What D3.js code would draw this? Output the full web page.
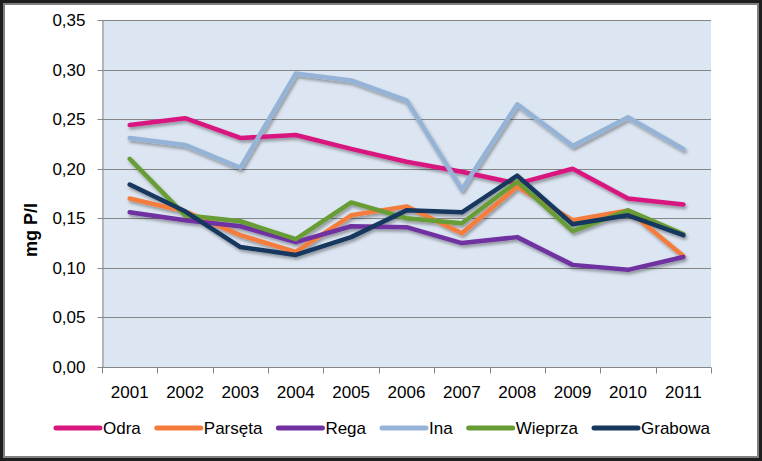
<!DOCTYPE html>
<html>
<head>
<meta charset="utf-8">
<script src="https://cdn.jsdelivr.net/npm/d3@7"></script>
<style>
  html, body { margin: 0; padding: 0; background: #1e1e1e; }
  svg { display: block; }
  text { font-family: "Liberation Sans", Arial, sans-serif; fill: #000; }
</style>
</head>
<body>
<svg id="chart" width="762" height="461"></svg>
<script>
// ---- data ----
const years = ["2001","2002","2003","2004","2005","2006","2007","2008","2009","2010","2011"];
const seriesNames = ["Odra","Parsęta","Rega","Ina","Wieprza","Grabowa"];
const odra    = [0.244,0.251,0.231,0.234,0.220,0.207,0.197,0.185,0.200,0.170,0.164];
const parseta = [0.170,0.157,0.133,0.116,0.153,0.162,0.135,0.182,0.148,0.158,0.112];
const rega    = [0.156,0.148,0.142,0.126,0.142,0.141,0.125,0.131,0.103,0.098,0.111];
const ina     = [0.231,0.224,0.201,0.296,0.289,0.269,0.179,0.265,0.223,0.252,0.220];
const wieprza = [0.210,0.153,0.147,0.129,0.166,0.150,0.145,0.187,0.137,0.158,0.134];
const grabowa = [0.184,0.157,0.121,0.113,0.131,0.158,0.156,0.193,0.144,0.153,0.133];
const yTicks  = [0,0.05,0.10,0.15,0.20,0.25,0.30,0.35];
const yTitle  = "mg P/l";
const colors  = ["#d8177f","#f47c3c","#7030a0","#95b3d7","#679c35","#17375e"];

const seriesValues = [odra, parseta, rega, ina, wieprza, grabowa];
const series = seriesNames.map((n,i) => ({name:n, values:seriesValues[i], color:colors[i]}));

// ---- layout ----
const W = 762, H = 461;
const plot = {left:102, right:711, top:20, bottom:367};
const svg = d3.select("#chart");

// outer frame
svg.append("rect").attr("x",0).attr("y",0).attr("width",W).attr("height",H).attr("fill","#1e1e1e");
svg.append("rect").attr("x",4).attr("y",4).attr("width",W-8).attr("height",H-8)
   .attr("fill","#fff").attr("stroke","#808080").attr("stroke-width",2);

const defs = svg.append("defs");
const f = defs.append("filter").attr("id","shadow").attr("x","-10%").attr("y","-10%").attr("width","130%").attr("height","140%");
f.append("feDropShadow").attr("dx",1.5).attr("dy",2.5).attr("stdDeviation",1.5)
 .attr("flood-color","#000").attr("flood-opacity",0.35);

const x = d3.scaleBand().domain(years).range([plot.left, plot.right]).padding(0);
const y = d3.scaleLinear().domain([0,0.35]).range([plot.bottom, plot.top]);

// plot background
svg.append("rect").attr("x",plot.left).attr("y",plot.top)
   .attr("width",plot.right-plot.left).attr("height",plot.bottom-plot.top)
   .attr("fill","#dce6f2");

// gridlines
svg.append("g").selectAll("line").data(yTicks.filter(d=>d>0)).join("line")
   .attr("x1",plot.left).attr("x2",plot.right)
   .attr("y1",d=>Math.round(y(d))+0.5).attr("y2",d=>Math.round(y(d))+0.5)
   .attr("stroke","#868686").attr("stroke-width",1);

// y axis
const fmt = d => d3.format(".2f")(d).replace(".", ",");
const yAxis = svg.append("g").attr("transform",`translate(${plot.left+0.5},0)`)
   .call(d3.axisLeft(y).tickValues(yTicks).tickFormat(fmt).tickSize(5).tickSizeOuter(0).tickPadding(12));
yAxis.select(".domain").attr("stroke","#868686");
yAxis.selectAll(".tick line").attr("stroke","#868686");
yAxis.selectAll(".tick text").attr("font-size",17).attr("font-family","Liberation Sans, Arial, sans-serif").attr("fill","#000");
yAxis.selectAll(".tick").attr("transform", d => `translate(0,${Math.round(y(d))+0.5})`);

// x axis
const xAxisG = svg.append("g").attr("transform",`translate(0,${plot.bottom+0.5})`);
xAxisG.append("line").attr("x1",plot.left).attr("x2",plot.right).attr("stroke","#868686");
const bounds = years.map(d => x(d)).concat([plot.right]);
xAxisG.selectAll("line.tk").data(bounds).join("line").attr("class","tk")
   .attr("x1",d=>Math.round(d)+0.5).attr("x2",d=>Math.round(d)+0.5).attr("y1",0).attr("y2",6)
   .attr("stroke","#868686");
xAxisG.selectAll("text").data(years).join("text")
   .attr("x",d=>x(d)+x.bandwidth()/2).attr("y",30)
   .attr("text-anchor","middle").attr("font-size",17).text(d=>d);

// y title
svg.append("text").attr("transform","translate(37,230) rotate(-90)")
   .attr("text-anchor","middle").attr("font-size",18).attr("font-weight","bold").text(yTitle);

// lines
const line = d3.line().x((d,i)=>x(years[i])+x.bandwidth()/2).y(d=>y(d));
svg.append("g").attr("filter","url(#shadow)").selectAll("path").data(series).join("path")
   .attr("d",d=>line(d.values)).attr("fill","none").attr("stroke",d=>d.color)
   .attr("stroke-width",4.5).attr("stroke-linejoin","round").attr("stroke-linecap","round");

// legend
const legend = svg.append("g");
const items = legend.selectAll("g").data(series).join("g");
items.append("line").attr("x1",0).attr("x2",44).attr("y1",0).attr("y2",0)
     .attr("stroke",d=>d.color).attr("stroke-width",5).attr("stroke-linecap","round");
items.append("text").attr("x",47).attr("y",6).attr("font-size",17).text(d=>d.name);
let cx = 0;
items.each(function(){
  const g = d3.select(this);
  g.attr("transform",`translate(${cx},0)`);
  cx += 47 + g.select("text").node().getComputedTextLength() + 16;
});
const total = cx - 16;
legend.attr("transform",`translate(${383 - total/2},428)`);
</script>
</body>
</html>
